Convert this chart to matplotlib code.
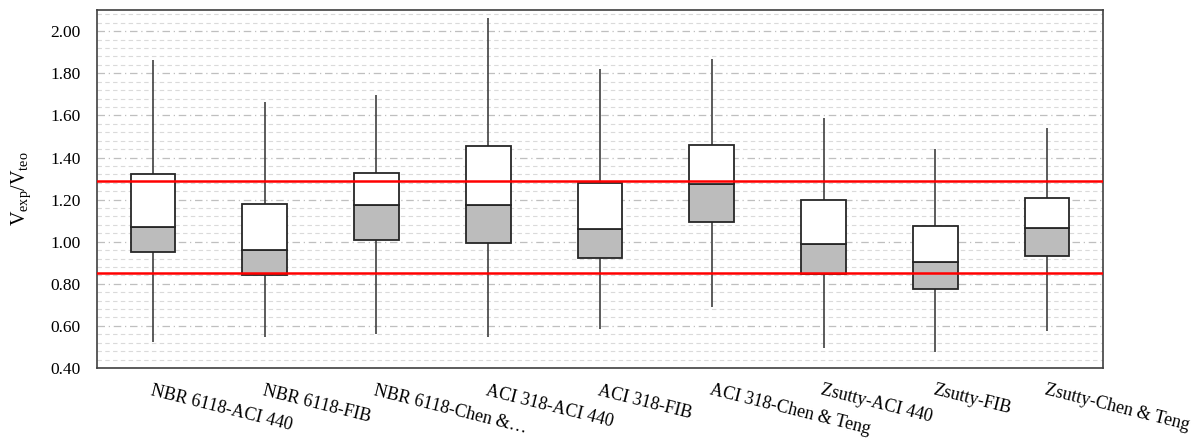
import matplotlib.pyplot as plt
from matplotlib.ticker import MultipleLocator, FormatStrFormatter
import numpy as np

plt.rcParams['font.family'] = ['Liberation Serif', 'DejaVu Serif']
plt.rcParams['mathtext.fontset'] = 'custom'
plt.rcParams['mathtext.rm'] = 'Liberation Serif'
plt.rcParams['mathtext.it'] = 'Liberation Serif'

categories = ['NBR 6118-ACI 440', 'NBR 6118-FIB', 'NBR 6118-Chen &…',
              'ACI 318-ACI 440', 'ACI 318-FIB', 'ACI 318-Chen & Teng',
              'Zsutty-ACI 440', 'Zsutty-FIB', 'Zsutty-Chen & Teng']
mins = [0.525, 0.549, 0.562, 0.549, 0.587, 0.691, 0.496, 0.477, 0.576]
q1 = [0.950, 0.843, 1.008, 0.992, 0.921, 1.092, 0.847, 0.774, 0.931]
medians = [1.071, 0.962, 1.173, 1.173, 1.062, 1.274, 0.991, 0.905, 1.065]
q3 = [1.322, 1.178, 1.326, 1.455, 1.280, 1.461, 1.198, 1.076, 1.206]
maxs = [1.862, 1.665, 1.698, 2.061, 1.819, 1.866, 1.589, 1.440, 1.540]
upper_limit = 1.29
lower_limit = 0.85

x = np.arange(len(categories))

fig = plt.figure(figsize=(12.04, 4.41), dpi=100)
ax = fig.add_axes([0.0806, 0.1655, 0.8355, 0.8115])

# grid
ax.yaxis.set_major_locator(MultipleLocator(0.2))
ax.yaxis.set_minor_locator(MultipleLocator(0.04))
ax.grid(axis='y', which='major', color='#bfbfbf', linestyle=(0, (6, 3, 1, 3)), linewidth=0.9)
ax.grid(axis='y', which='minor', color='#dadada', linestyle=(0, (4, 3)), linewidth=0.8)
ax.set_axisbelow(True)

# whiskers
ax.vlines(x, mins, maxs, color='#404040', linewidth=1.2, zorder=2)

# boxes: lower part gray, upper part white
lower_h = np.array(medians) - np.array(q1)
upper_h = np.array(q3) - np.array(medians)
ax.bar(x, lower_h, bottom=q1, width=0.4, color='#bcbcbc', edgecolor='#262626', linewidth=1.3, zorder=3)
ax.bar(x, upper_h, bottom=medians, width=0.4, color='white', edgecolor='#262626', linewidth=1.3, zorder=3)

# reference lines
ax.axhline(upper_limit, color='#ff0000', linewidth=1.8, zorder=4)
ax.axhline(lower_limit, color='#ff0000', linewidth=1.8, zorder=4)

ax.set_xlim(-0.5, len(categories) - 0.5)
ax.set_ylim(0.4, 2.1)
ax.yaxis.set_major_formatter(FormatStrFormatter('%.2f'))
ax.set_yticks(np.arange(0.4, 2.01, 0.2))
ax.tick_params(axis='y', which='both', length=0, labelsize=12.5, pad=12)
ax.tick_params(axis='x', length=0, pad=10)
ax.set_xticks(x)
ax.set_xticklabels(categories, rotation=-14, ha='left', rotation_mode='anchor', fontsize=13)

ax.set_ylabel(r'$\mathregular{V_{exp}/V_{teo}}$', fontsize=14.5)
ax.yaxis.set_label_coords(-0.064, 0.5)

for s in ax.spines.values():
    s.set_color('#404040')
    s.set_linewidth(1.2)

plt.savefig('out.png', dpi=100)
